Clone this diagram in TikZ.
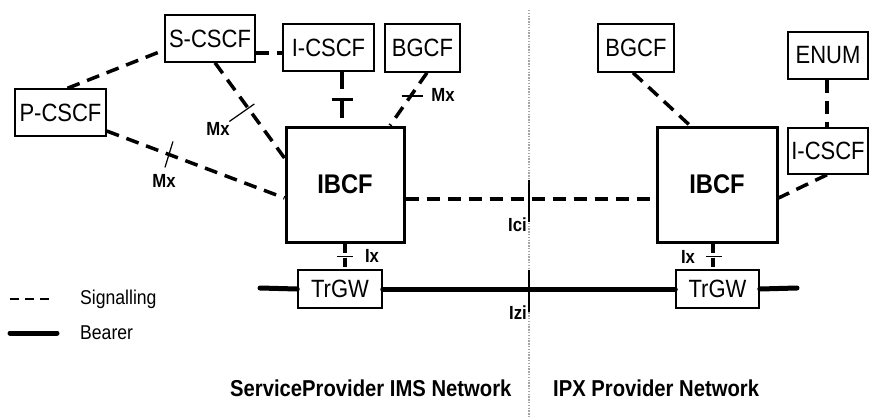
\documentclass[tikz,border=0pt]{standalone}
\usepackage{fontspec}
\setmainfont{Liberation Sans}[FakeStretch=0.88]
\usepackage{tikz}
\usetikzlibrary{positioning}

\begin{document}
\begin{tikzpicture}[
    x=1pt, y=-1pt,
    elem/.style={
        rectangle, draw=black, line width=1.5pt,
        inner sep=0pt, align=center,
        minimum height=47pt,
        font=\fontsize{25}{27}\selectfont
    },
    ibcf/.style={
        rectangle, draw=black, line width=3pt,
        inner sep=0pt,
        minimum width=118pt, minimum height=115pt,
        font=\fontsize{27}{29}\selectfont\bfseries
    },
    sig/.style={line width=3.5pt, dash pattern=on 13pt off 8pt},
    shortsig/.style={line width=3.5pt, dash pattern=on 9pt off 5pt},
    bearer/.style={line width=5pt, line cap=round},
    tick/.style={line width=1.2pt},
    lbl/.style={inner sep=0pt, font=\fontsize{19}{21}\selectfont\bfseries},
    legtxt/.style={inner sep=0pt, anchor=west, font=\fontsize{20}{22}\selectfont},
    nettxt/.style={inner sep=0pt, anchor=west, font=\fontsize{23}{25}\selectfont\bfseries}
]
\useasboundingbox (0,0) rectangle (869,418);

% Divider
\coordinate (divT) at (529,10);
\coordinate (divB) at (529,418);
\draw[gray!70, line width=1.6pt, dash pattern=on 1.4pt off 1.4pt] (divT) -- (divB);

% Service provider side
\node[elem, minimum width=91pt] (pcscf) at (60.5,112.5) {P-CSCF};
\node[elem, minimum width=90pt] (scscf) at (210,38.5) {S-CSCF};
\node[elem, minimum width=91pt] (icscfL) at (328.5,47.5) {I-CSCF};
\node[elem, minimum width=75pt, minimum height=48pt] (bgcfL) at (422.5,48) {BGCF};
\node[ibcf] (ibcfL) at (345,184.5) {IBCF};
\node[elem, minimum width=84pt, minimum height=38pt] (trgwL) at (340,289) {TrGW};

% IPX side
\node[elem, minimum width=76pt, minimum height=48pt] (bgcfR) at (636,48) {BGCF};
\node[elem, minimum width=80pt] (enum) at (828,55.5) {ENUM};
\node[elem, minimum width=80pt, minimum height=46pt] (icscfR) at (828,151) {I-CSCF};
\node[ibcf, minimum width=120pt] (ibcfR) at (717,184.5) {IBCF};
\node[elem, minimum width=83pt, minimum height=38pt] (trgwR) at (717.5,289) {TrGW};

% Signalling
\draw[sig] ([xshift=7pt]pcscf.north) -- ([yshift=-11.5pt]scscf.west);
\draw[sig] ([yshift=-14.5pt]scscf.east) -- ([yshift=-14.5pt]scscf.east -| icscfL.west);
\draw[sig] ([xshift=5pt]scscf.south) -- ([yshift=26.5pt]ibcfL.west)
    coordinate[pos=0.48] (mxA);
\draw[sig] ([yshift=-18.5pt]pcscf.east) -- ([yshift=-13.5pt]ibcfL.west)
    coordinate[pos=0.35] (mxB);
\draw[line width=3.5pt, dash pattern=on 17pt off 12pt]
    ([xshift=13.5pt]icscfL.south) -- ([xshift=13.5pt]icscfL.south |- ibcfL.north)
    coordinate[pos=0.52] (tI);
\draw[sig] ([xshift=4.5pt]bgcfL.south) -- ([xshift=45pt]ibcfL.north)
    coordinate[pos=0.44] (mxC);
\draw[sig] ([yshift=-14.5pt]ibcfL.east) -- ([yshift=-14.5pt]ibcfR.west);
\draw[shortsig] (ibcfL.south) -- (ibcfL.south |- trgwL.north) coordinate[pos=0.5] (ixA);
\draw[shortsig] ([xshift=-4pt]ibcfR.south) -- ([xshift=-4pt]ibcfR.south |- trgwR.north)
    coordinate[pos=0.5] (ixB);
\draw[sig] ([xshift=-3pt]bgcfR.south) -- ([xshift=-27pt]ibcfR.north);
\draw[sig] ([xshift=-1pt]enum.south) -- ([xshift=-1pt]icscfR.north);
\draw[sig] ([xshift=-1pt]icscfR.south) -- ([yshift=-13.5pt]ibcfR.east);

% Reference point ticks
\draw[tick] (mxA) ++(-19,13) -- ++(25,-17.5);
\draw[tick] (mxB) ++(-4,13) -- ++(8,-26);
\draw[line width=3pt] (tI) ++(-10.5,0) -- ++(21,0);
\draw[tick] (mxC) ++(-9,0) -- ++(21,0);
\draw[tick] (ixA) ++(-8,0) -- ++(16,0);
\draw[tick] (ixB) ++(-7,0) -- ++(16,0);
\node[lbl] (mxAlbl) at (218,129) {Mx};
\node[lbl] (mxBlbl) at (164,181) {Mx};
\node[lbl] (mxClbl) at (443,95) {Mx};
\node[lbl] (ixAlbl) at (372,256) {Ix};
\node[lbl] (ixBlbl) at (688,257) {Ix};

% Bearer
\coordinate (bearW) at (260,288);
\coordinate (bearE) at (797,288);
\draw[bearer] (bearW) -- (trgwL.west);
\draw[bearer] (trgwL.east) -- (trgwR.west);
\draw[bearer] (trgwR.east) -- (bearE);

% Interfaces on divider
\draw[tick] (529,180) -- (529,222);
\draw[tick] (529,270) -- (529,312);
\node[lbl, anchor=east] (ici) at (527,225) {Ici};
\node[lbl, anchor=east] (izi) at (527,313) {Izi};

% Legend
\coordinate (legS) at (10,299);
\coordinate (legB) at (10,333);
\draw[line width=1.3pt, dash pattern=on 9pt off 6pt] (legS) -- ++(42,0);
\draw[line width=5pt, line cap=round] (legB) -- ++(47,0);
\node[legtxt] (sigtxt) at (80,299) {Signalling};
\node[legtxt] (beartxt) at (80,333) {Bearer};

% Networks
\node[nettxt] (spnet) at (230,388) {ServiceProvider IMS Network};
\node[nettxt] (ipxnet) at (553,388) {IPX Provider Network};

\end{tikzpicture}
\end{document}
